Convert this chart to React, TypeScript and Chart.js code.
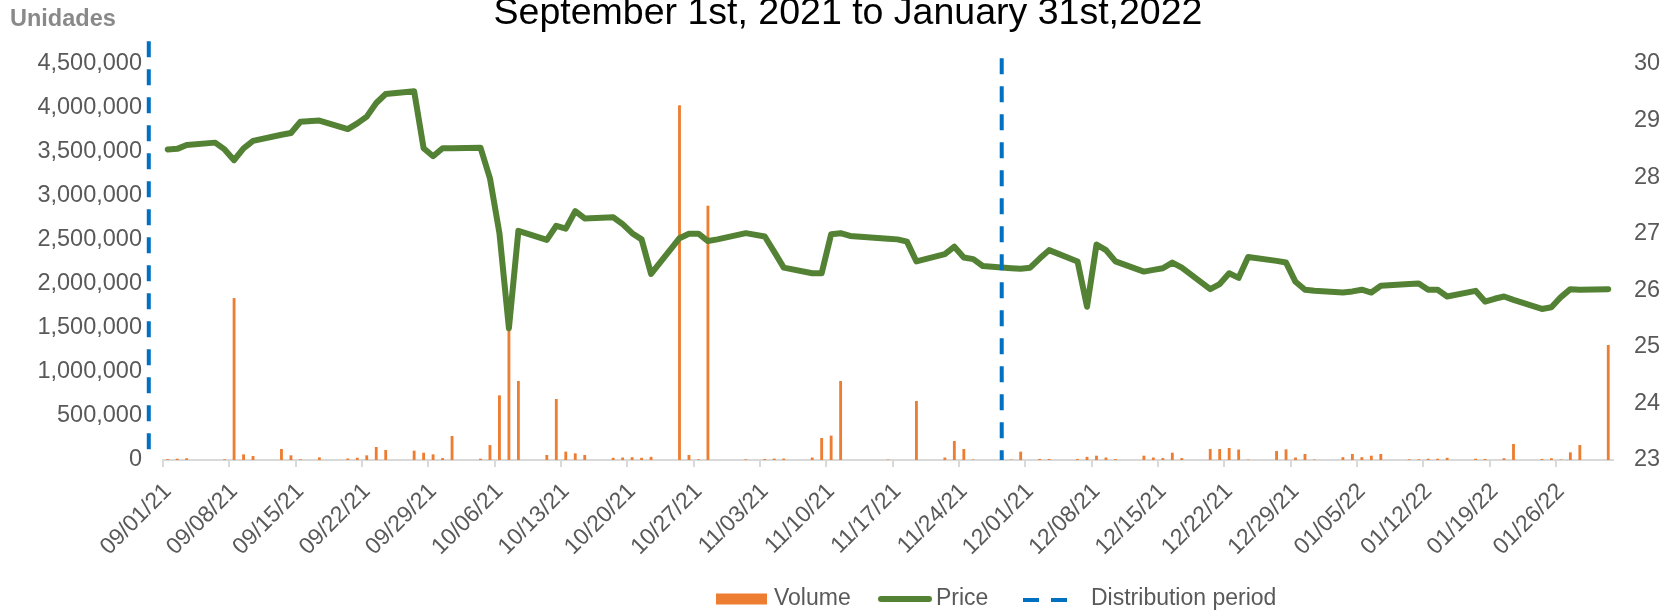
import { useEffect, useRef } from 'react';
import { Chart, registerables } from 'chart.js';

Chart.register(...registerables);

// ---------------- data ----------------
const TITLE = 'September 1st, 2021 to January 31st,2022';
const AXIS_UNIT = 'Unidades';
const START_DATE = '09/01/21';
const END_DATE = '01/31/22';
const TICK_EVERY_DAYS = 7;

const tradeDates = [
  '09/01/21', '09/02/21', '09/03/21', '09/06/21', '09/07/21', '09/08/21', '09/09/21', '09/10/21',
  '09/13/21', '09/14/21', '09/15/21', '09/17/21', '09/20/21', '09/21/21', '09/22/21', '09/23/21',
  '09/24/21', '09/27/21', '09/28/21', '09/29/21', '09/30/21', '10/01/21', '10/04/21', '10/05/21',
  '10/06/21', '10/07/21', '10/08/21', '10/11/21', '10/12/21', '10/13/21', '10/14/21', '10/15/21',
  '10/18/21', '10/19/21', '10/20/21', '10/21/21', '10/22/21', '10/25/21', '10/26/21', '10/27/21',
  '10/28/21', '10/29/21', '11/01/21', '11/03/21', '11/04/21', '11/05/21', '11/08/21', '11/09/21',
  '11/10/21', '11/11/21', '11/12/21', '11/16/21', '11/17/21', '11/18/21', '11/19/21', '11/22/21',
  '11/23/21', '11/24/21', '11/25/21', '11/26/21', '11/29/21', '11/30/21', '12/01/21', '12/02/21',
  '12/03/21', '12/06/21', '12/07/21', '12/08/21', '12/09/21', '12/10/21', '12/13/21', '12/14/21',
  '12/15/21', '12/16/21', '12/17/21', '12/20/21', '12/21/21', '12/22/21', '12/23/21', '12/24/21',
  '12/27/21', '12/28/21', '12/29/21', '12/30/21', '12/31/21', '01/03/22', '01/04/22', '01/05/22',
  '01/06/22', '01/07/22', '01/10/22', '01/11/22', '01/12/22', '01/13/22', '01/14/22', '01/17/22',
  '01/18/22', '01/19/22', '01/20/22', '01/21/22', '01/24/22', '01/25/22', '01/26/22', '01/27/22',
  '01/28/22', '01/31/22',
];

const volumes = [
  10000, 15000, 20000, 0, 8000, 1840000, 64000, 45000,
  125000, 53000, 8000, 30000, 17000, 26000, 53000, 148000,
  114000, 106000, 83000, 64000, 22000, 273000, 15000, 170000,
  735000, 1600000, 898000, 57000, 693000, 95000, 76000, 57000,
  25000, 28000, 32000, 25000, 36000, 4030000, 57000, 8000,
  2890000, 0, 8000, 12000, 16000, 16000, 28000, 250000,
  277000, 898000, 0, 5000, 0, 0, 670000, 28000,
  216000, 125000, 5000, 0, 5000, 95000, 0, 12000,
  12000, 12000, 36000, 49000, 28000, 10000, 49000, 28000,
  22000, 83000, 22000, 125000, 125000, 136000, 119000, 5000,
  102000, 121000, 28000, 68000, 5000, 32000, 68000, 32000,
  49000, 68000, 8000, 8000, 15000, 15000, 25000, 15000,
  12000, 0, 20000, 182000, 12000, 20000, 5000, 87000,
  170000, 1307000,
];

const prices = [
  28.49, 28.5, 28.57, 28.61, 28.49, 28.3, 28.51, 28.64,
  28.75, 28.78, 28.98, 29.0, 28.85, 28.95, 29.07, 29.31,
  29.47, 29.52, 28.51, 28.37, 28.51, 28.51, 28.52, 27.98,
  27.01, 25.33, 27.05, 26.89, 27.14, 27.09, 27.4, 27.27,
  27.29, 27.17, 27.01, 26.9, 26.29, 26.92, 27.0, 27.0,
  26.87, 26.9, 27.01, 26.95, 26.68, 26.4, 26.3, 26.3,
  26.99, 27.01, 26.96, 26.91, 26.9, 26.86, 26.51, 26.64,
  26.77, 26.58, 26.55, 26.43, 26.39, 26.38, 26.4, 26.56,
  26.71, 26.51, 25.71, 26.81, 26.71, 26.51, 26.33, 26.36,
  26.39, 26.49, 26.4, 26.02, 26.11, 26.3, 26.22, 26.59,
  26.52, 26.49, 26.15, 26.01, 25.99, 25.96, 25.98, 26.01,
  25.96, 26.08, 26.11, 26.12, 26.01, 26.01, 25.89, 25.99,
  25.8, 25.85, 25.89, 25.83, 25.67, 25.7, 25.88, 26.02,
  26.01, 26.02,
];

// distribution period markers (vertical dashed lines), drawn on the price axis
const distributionDates = ['08/30/21', '11/28/21'];
const distributionTop = [30.4, 30.1];
const distributionBottom = [23, 23];

const volumeAxis = { min: 0, max: 4500000, step: 500000 };
const priceAxis = { min: 23, max: 30, step: 1 };

const seriesLabels = ['Volume', 'Price', 'Distribution period'];

// ---------------- styles ----------------
const FONT = "'Liberation Sans', Arial, Helvetica, sans-serif";
const VOLUME_COLOR = '#ED7D31';
const PRICE_COLOR = '#548235';
const DIST_COLOR = '#0070C0';
const TEXT_COLOR = '#595959';
const AXIS_COLOR = '#D9D9D9';

const DAY = 86400000;
function parseDate(s: string): number {
  const [m, d, y] = s.split('/').map(Number);
  return Date.UTC(2000 + y, m - 1, d);
}
function pad(n: number): string {
  return n < 10 ? '0' + n : String(n);
}
function fmt(t: number): string {
  const d = new Date(t);
  return pad(d.getUTCMonth() + 1) + '/' + pad(d.getUTCDate()) + '/' + pad(d.getUTCFullYear() % 100);
}
const startT = parseDate(START_DATE);
const endT = parseDate(END_DATE);
const calendarLabels: string[] = [];
for (let t = startT; t <= endT; t += DAY) calendarLabels.push(fmt(t));
const dayIndex = (s: string) => Math.round((parseDate(s) - startT) / DAY);

const distributionPlugin = {
  id: 'distributionLines',
  afterDatasetsDraw(chart: any) {
    const { ctx } = chart;
    const xs = chart.scales.x;
    const ys = chart.scales.y1;
    ctx.save();
    ctx.strokeStyle = DIST_COLOR;
    ctx.lineWidth = 4;
    ctx.setLineDash([16, 12]);
    distributionDates.forEach((d, i) => {
      const px = xs.getPixelForValue(dayIndex(d));
      ctx.beginPath();
      ctx.moveTo(px, ys.getPixelForValue(distributionTop[i]));
      ctx.lineTo(px, ys.getPixelForValue(distributionBottom[i]));
      ctx.stroke();
    });
    ctx.restore();
  },
};

const annotationPlugin = {
  id: 'unitsAndLegend',
  afterDraw(chart: any) {
    const { ctx } = chart;
    ctx.save();
    // units label
    ctx.font = `bold 23.5px ${FONT}`;
    ctx.fillStyle = '#898989';
    ctx.textAlign = 'left';
    ctx.textBaseline = 'alphabetic';
    ctx.fillText(AXIS_UNIT, 10, 26);

    // legend
    const cy = 599;
    ctx.font = `23px ${FONT}`;
    ctx.textBaseline = 'middle';
    // volume
    ctx.fillStyle = VOLUME_COLOR;
    ctx.fillRect(716, cy - 5.5, 51, 11);
    ctx.fillStyle = TEXT_COLOR;
    ctx.fillText(seriesLabels[0], 774, cy);
    // price
    ctx.strokeStyle = PRICE_COLOR;
    ctx.lineWidth = 6;
    ctx.lineCap = 'round';
    ctx.beginPath();
    ctx.moveTo(881, cy);
    ctx.lineTo(929, cy);
    ctx.stroke();
    ctx.fillText(seriesLabels[1], 936, cy);
    // distribution
    ctx.strokeStyle = DIST_COLOR;
    ctx.lineWidth = 4;
    ctx.lineCap = 'butt';
    ctx.setLineDash([16, 12]);
    ctx.beginPath();
    ctx.moveTo(1023, cy + 1);
    ctx.lineTo(1067, cy + 1);
    ctx.stroke();
    ctx.setLineDash([]);
    ctx.fillText(seriesLabels[2], 1091, cy);
    ctx.restore();
  },
};

export default function App() {
  const ref = useRef<HTMLCanvasElement>(null);

  useEffect(() => {
    if (!ref.current) return;
    const tickFont = { family: FONT, size: 23.5 };
    const chart = new Chart(ref.current, {
      type: 'bar',
      data: {
        labels: calendarLabels,
        datasets: [
          {
            type: 'line',
            label: seriesLabels[1],
            data: tradeDates.map((d, i) => ({ x: d, y: prices[i] })) as any,
            borderColor: PRICE_COLOR,
            backgroundColor: PRICE_COLOR,
            borderWidth: 6,
            pointRadius: 0,
            tension: 0,
            borderJoinStyle: 'round',
            borderCapStyle: 'round',
            yAxisID: 'y1',
            order: 0,
          } as any,
          {
            type: 'bar',
            label: seriesLabels[0],
            data: tradeDates.map((d, i) => ({ x: d, y: volumes[i] })) as any,
            backgroundColor: VOLUME_COLOR,
            borderWidth: 0,
            barPercentage: 0.3,
            categoryPercentage: 1,
            yAxisID: 'y',
            order: 1,
          } as any,
        ],
      },
      options: {
        animation: false,
        responsive: false,
        maintainAspectRatio: false,
        layout: { padding: { left: 18, right: 0, top: 0, bottom: 0 } },
        plugins: {
          legend: { display: false },
          tooltip: { enabled: false },
          title: {
            display: true,
            text: TITLE,
            color: '#000000',
            font: { family: FONT, size: 37.5, weight: 'normal', lineHeight: 1.2 },
            padding: { top: -9, bottom: 28 },
          },
        },
        scales: {
          x: {
            type: 'category',
            offset: true,
            grid: {
              display: true,
              offset: true,
              drawOnChartArea: false,
              drawTicks: true,
              tickLength: 7,
              lineWidth: 2,
              color: (c: any) => (c.index % TICK_EVERY_DAYS === 0 ? AXIS_COLOR : 'rgba(0,0,0,0)'),
            },
            border: { display: true, color: AXIS_COLOR, width: 2 },
            ticks: {
              autoSkip: false,
              minRotation: 45,
              maxRotation: 45,
              color: TEXT_COLOR,
              font: { family: FONT, size: 23 },
              padding: 11,
              callback: (v: any, i: number) => (i % TICK_EVERY_DAYS === 0 ? calendarLabels[i] : ''),
            },
            afterFit: (s: any) => {
              s.height = 156;
            },
          },
          y: {
            position: 'left',
            min: volumeAxis.min,
            max: volumeAxis.max,
            grid: { display: false, drawTicks: false },
            border: { display: false },
            ticks: {
              stepSize: volumeAxis.step,
              color: TEXT_COLOR,
              font: tickFont,
              padding: 21,
              callback: (v: any) => Number(v).toLocaleString('en-US'),
            },
            afterFit: (s: any) => {
              s.width = 145;
            },
          },
          y1: {
            position: 'right',
            min: priceAxis.min,
            max: priceAxis.max,
            grid: { display: false, drawTicks: false },
            border: { display: false },
            ticks: {
              stepSize: priceAxis.step,
              color: TEXT_COLOR,
              font: tickFont,
              padding: 21,
            },
            afterFit: (s: any) => {
              s.width = 65;
            },
          },
        },
      } as any,
      plugins: [distributionPlugin, annotationPlugin],
    });
    return () => chart.destroy();
  }, []);

  return (
    <canvas
      ref={ref}
      width={1678}
      height={616}
      style={{ position: 'absolute', left: 0, top: 0, display: 'block' }}
    />
  );
}
